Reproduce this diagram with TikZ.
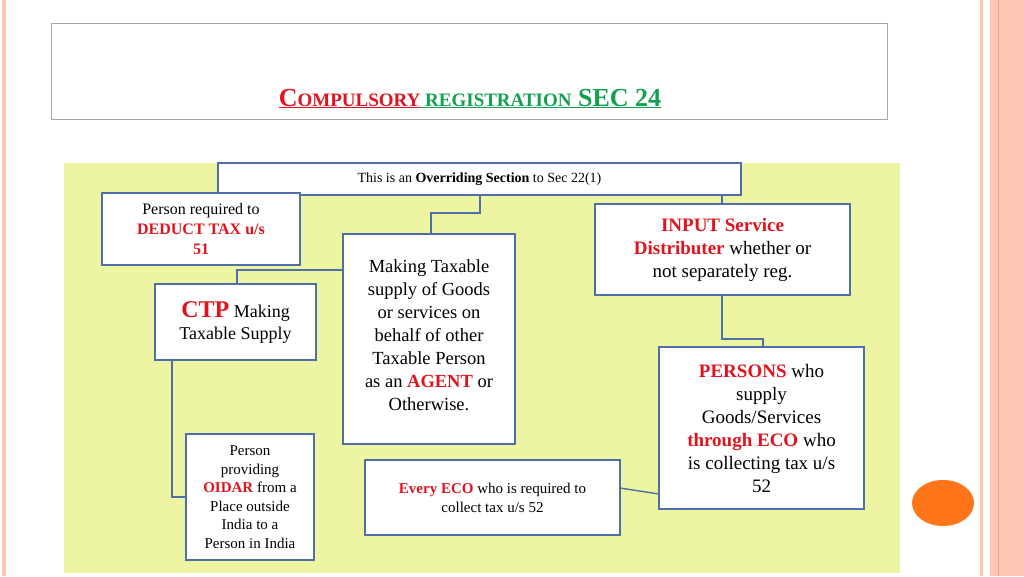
\documentclass[tikz,border=0pt]{standalone}
\usepackage{fontspec}
\setmainfont{Liberation Serif}
\usetikzlibrary{positioning}
\definecolor{ln}{HTML}{4F6FA8}
\definecolor{rd}{HTML}{E0141E}
\definecolor{gr}{HTML}{12A150}
\definecolor{yl}{HTML}{EEF5A2}
\definecolor{sal}{HTML}{FCC6B2}
\definecolor{sal2}{HTML}{F4A385}
\newcommand{\R}[1]{\textcolor{rd}{\textbf{#1}}}
\tikzset{bx/.style={draw=ln,line width=1.4pt,fill=white,align=center,inner sep=2pt},
 cn/.style={draw=ln,line width=1.4pt}}
\begin{document}
\begin{tikzpicture}[x=1pt,y=-1pt]
\useasboundingbox (0,0) rectangle (1024,576);
\fill[white] (0,0) rectangle (1024,576);
\fill[sal] (2,0) rectangle (6,576);
\fill[sal] (980,0) rectangle (983,576);
\fill[sal] (990,0) rectangle (1024,576);
\draw[sal2,line width=0.8pt] (998,0) -- (998,576);
\draw[gray!70,line width=0.8pt] (51,23) rectangle (887,119);
\node[anchor=base] (title) at (470,106) {\fontsize{26}{30}\selectfont\bfseries
 \textcolor{rd}{\underline{C\fontsize{19}{22}\selectfont OMPULSORY}}\textcolor{gr}{\fontsize{19}{22}\selectfont\underline{\ REGISTRATION}\fontsize{26}{30}\selectfont\underline{ SEC 24}}};
\fill[yl] (64,163) rectangle (900,573);
% connectors
\coordinate (a1) at (480,195);
\draw[cn] (a1) -- (480,213) -- (431,213) -- (431,234);
\draw[cn] (722,195) -- (722,204);
\draw[cn] (343,270) -- (237,270) -- (237,284);
\draw[cn] (722,295) -- (722,339) -- (763,339) -- (763,347);
\draw[cn] (172,360) -- (172,497) -- (186,497);
\draw[cn] (620,488) -- (659,494);
% boxes
\node[bx,minimum width=523,minimum height=32,font=\fontsize{14}{16}\selectfont] (top) at (479.5,179) {This is an \textbf{Overriding Section} to Sec 22(1)};
\node[bx,minimum width=198,minimum height=72,font=\fontsize{16}{20}\selectfont] (ded) at (201,229) {Person required to\\ \R{DEDUCT TAX u/s}\\ \R{51}};
\draw[bx] (343,234) rectangle (515,444);
\node[align=center,anchor=north,inner sep=0pt,font=\fontsize{18.5}{23}\selectfont] (mk) at (429,259) {Making Taxable\\ supply of Goods\\ or services on\\ behalf of other\\ Taxable Person\\ as an \R{AGENT} or\\ Otherwise.};
\node[bx,minimum width=255,minimum height=91,font=\fontsize{19}{23}\selectfont] (inp) at (722.5,249.5) {\R{INPUT Service}\\ \R{Distributer} whether or\\ not separately reg.};
\node[bx,minimum width=161,minimum height=76,font=\fontsize{18}{22}\selectfont] (ctp) at (235.5,322) {\R{\fontsize{24}{26}\selectfont CTP} Making\\ Taxable Supply};
\node[bx,minimum width=205,minimum height=162,font=\fontsize{19}{23}\selectfont] (per) at (761.5,428) {\R{PERSONS} who\\ supply\\ Goods/Services\\ \R{through ECO} who\\ is collecting tax u/s\\ 52};
\node[bx,minimum width=128,minimum height=126,font=\fontsize{15}{18.5}\selectfont] (oid) at (250,497) {Person\\ providing\\ \R{OIDAR} from a\\ Place outside\\ India to a\\ Person in India};
\node[bx,minimum width=255,minimum height=75,font=\fontsize{15}{19}\selectfont] (eco) at (492.5,497.5) {\R{Every ECO} who is required to\\ collect tax u/s 52};
\fill[orange!80!red!90] (943,503) ellipse (31 and 23);
\end{tikzpicture}
\end{document}
